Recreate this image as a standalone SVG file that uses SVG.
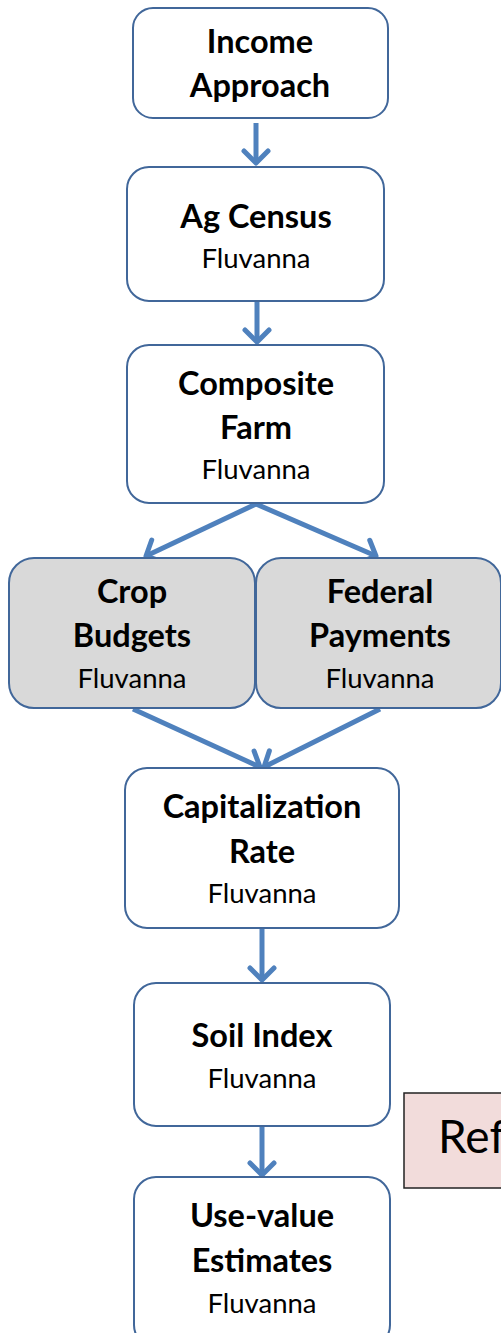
<svg xmlns="http://www.w3.org/2000/svg" width="501" height="1333" viewBox="0 0 501 1333">
<style>
.box{fill:#ffffff;stroke:#41679a;stroke-width:2}
.grey{fill:#d9d9d9}
.b{font-family:Lato,"Open Sans",sans-serif;font-weight:bold;font-size:32.5px;fill:#000;text-anchor:middle}
.r{font-family:Lato,"Open Sans",sans-serif;font-size:27.5px;fill:#000;text-anchor:middle}
.c{stroke:#4f81bd;stroke-width:5;fill:none;marker-end:url(#ah)}
</style>
<defs>
<marker id="ah" markerUnits="userSpaceOnUse" viewBox="0 0 18 30" refX="15" refY="15" markerWidth="18" markerHeight="30" orient="auto">
<path d="M3,3 L15,15 L3,27" fill="none" stroke="#4f81bd" stroke-width="5" stroke-linecap="round" stroke-linejoin="round"/>
</marker>
</defs>
<g id="connectors">
<path class="c" d="M256,123 L256,163"/>
<path class="c" d="M257,302 L257,342"/>
<path class="c" d="M256,504 L146,556"/>
<path class="c" d="M256,504 L376,556"/>
<path class="c" d="M133,709 L260,767"/>
<path class="c" d="M380,709 L264,767"/>
<path class="c" d="M262,929 L262,980"/>
<path class="c" d="M262,1127 L262,1175"/>
</g>
<g id="income">
<rect class="box" x="133" y="8" width="255" height="110" rx="20"/>
<text class="b" x="260" y="53">Income</text>
<text class="b" x="260" y="97">Approach</text>
</g>
<g id="agcensus">
<rect class="box" x="127" y="167" width="257" height="134" rx="22"/>
<text class="b" x="256" y="228">Ag Census</text>
<text class="r" x="256" y="268">Fluvanna</text>
</g>
<g id="composite">
<rect class="box" x="127" y="345" width="257" height="158" rx="22"/>
<text class="b" x="256" y="395">Composite</text>
<text class="b" x="256" y="439">Farm</text>
<text class="r" x="256" y="479">Fluvanna</text>
</g>
<g id="crop">
<rect class="box grey" x="9" y="558" width="246" height="150" rx="25"/>
<text class="b" x="132" y="603">Crop</text>
<text class="b" x="132" y="647">Budgets</text>
<text class="r" x="132" y="688">Fluvanna</text>
</g>
<g id="federal">
<rect class="box grey" x="256" y="558" width="245" height="150" rx="25"/>
<text class="b" x="380" y="603">Federal</text>
<text class="b" x="380" y="647">Payments</text>
<text class="r" x="380" y="688">Fluvanna</text>
</g>
<g id="caprate">
<rect class="box" x="125" y="768" width="274" height="160" rx="22"/>
<text class="b" x="262" y="818">Capitalization</text>
<text class="b" x="262" y="863">Rate</text>
<text class="r" x="262" y="903">Fluvanna</text>
</g>
<g id="soil">
<rect class="box" x="134" y="983" width="256" height="143" rx="22"/>
<text class="b" x="262" y="1047">Soil Index</text>
<text class="r" x="262" y="1088">Fluvanna</text>
</g>
<g id="usevalue">
<rect class="box" x="134" y="1177" width="256" height="170" rx="22"/>
<text class="b" x="262" y="1227">Use-value</text>
<text class="b" x="262" y="1272">Estimates</text>
<text class="r" x="262" y="1313">Fluvanna</text>
</g>
<g id="ref">
<rect x="404" y="1093" width="110" height="95" fill="#f2dcdb" stroke="#222" stroke-width="1.5"/>
<text x="438" y="1153" font-family="Lato,'Open Sans',sans-serif" font-size="46" fill="#000">Ref</text>
</g>
</svg>
